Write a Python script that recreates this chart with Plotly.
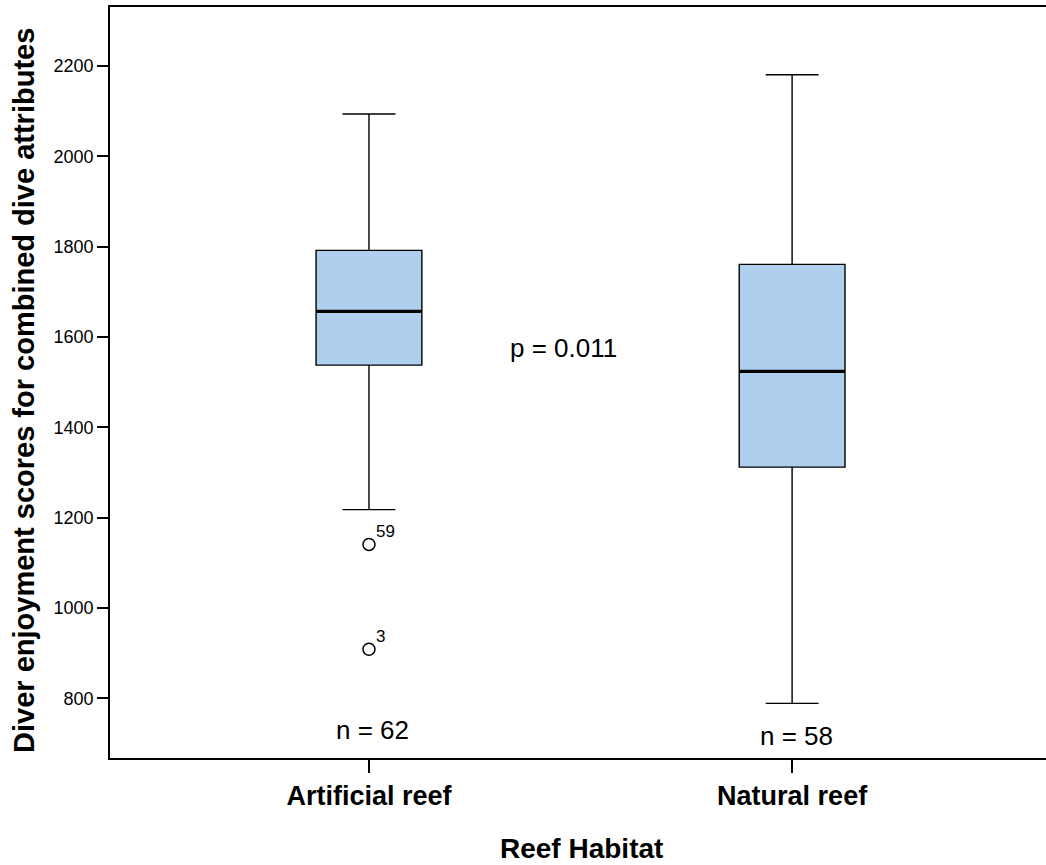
import plotly.graph_objects as go

categories = ["Artificial reef", "Natural reef"]
positions = [0, 1]
lower_whisker = [1218, 789]
q1 = [1538, 1312]
median = [1657, 1524]
q3 = [1792, 1761]
upper_whisker = [2094, 2181]
n_labels = ["n = 62", "n = 58"]
n_label_y = [731, 716]

outlier_x = [0, 0]
outlier_y = [1141, 909]
outlier_ids = ["59", "3"]

p_text = "p = 0.011"
p_pos = (0.46, 1575)

y_ticks = [800, 1000, 1200, 1400, 1600, 1800, 2000, 2200]

FONT = "Arial, Liberation Sans, sans-serif"
BOX_FILL = "#AECFEE"
BOX_W = 0.25

fig = go.Figure()

fig.add_trace(go.Box(
    x=positions, q1=q1, median=median, q3=q3,
    lowerfence=lower_whisker, upperfence=upper_whisker,
    width=BOX_W, whiskerwidth=0.5,
    fillcolor=BOX_FILL, line=dict(color="black", width=1.4),
    boxpoints=False, showlegend=False, hoverinfo="skip",
))

# thick median lines
for xp, m in zip(positions, median):
    fig.add_trace(go.Scatter(
        x=[xp - BOX_W / 2, xp + BOX_W / 2], y=[m, m], mode="lines",
        line=dict(color="black", width=3.2), showlegend=False, hoverinfo="skip",
    ))

fig.add_trace(go.Scatter(
    x=outlier_x, y=outlier_y, mode="markers",
    marker=dict(symbol="circle-open", size=12, color="black", line=dict(width=1.5)),
    showlegend=False, hoverinfo="skip",
))

annotations = []
for xo, yo, lab in zip(outlier_x, outlier_y, outlier_ids):
    annotations.append(dict(x=xo, y=yo, text=lab, xref="x", yref="y",
                            showarrow=False, xanchor="left", yanchor="bottom",
                            xshift=5, yshift=1,
                            font=dict(family=FONT, size=17, color="black")))
for xp, lab, ly in zip(positions, n_labels, n_label_y):
    annotations.append(dict(x=xp, y=ly, text=lab, xref="x", yref="y",
                            showarrow=False, xanchor="center", yanchor="middle",
                            xshift=4,
                            font=dict(family=FONT, size=26, color="black")))
annotations.append(dict(x=p_pos[0], y=p_pos[1], text=p_text, xref="x", yref="y",
                        showarrow=False, xanchor="center", yanchor="middle",
                        font=dict(family=FONT, size=26, color="black")))
annotations.append(dict(x=0.504, y=-0.12, xref="paper", yref="paper",
                        text="<b>Reef Habitat</b>", showarrow=False,
                        xanchor="center", yanchor="middle",
                        font=dict(family=FONT, size=28, color="black")))
annotations.append(dict(x=-0.092, y=0.49, xref="paper", yref="paper",
                        text="<b>Diver enjoyment scores for combined dive attributes</b>",
                        showarrow=False, textangle=-90,
                        xanchor="center", yanchor="middle",
                        font=dict(family=FONT, size=29, color="black")))

fig.update_layout(
    width=1046, height=865,
    margin=dict(l=110, r=0, t=7, b=107),
    paper_bgcolor="white", plot_bgcolor="white",
    font=dict(family=FONT, color="black"),
    annotations=annotations,
    xaxis=dict(
        range=[-0.612, 1.600], tickmode="array", tickvals=positions,
        ticktext=[f"<b>{c}</b>" for c in categories],
        tickfont=dict(family=FONT, size=27, color="black"),
        ticks="outside", ticklen=13, tickwidth=1.5, tickcolor="black",
        showline=True, linecolor="black", linewidth=1.6, mirror=True,
        showgrid=False, zeroline=False,
    ),
    yaxis=dict(
        range=[668, 2331], tickmode="array", tickvals=y_ticks,
        tickfont=dict(family=FONT, size=18, color="black"),
        ticks="outside", ticklen=11, tickwidth=1.5, tickcolor="black",
        showline=True, linecolor="black", linewidth=1.6,
        showgrid=False, zeroline=False,
    ),
)

fig.write_html("out.html")
